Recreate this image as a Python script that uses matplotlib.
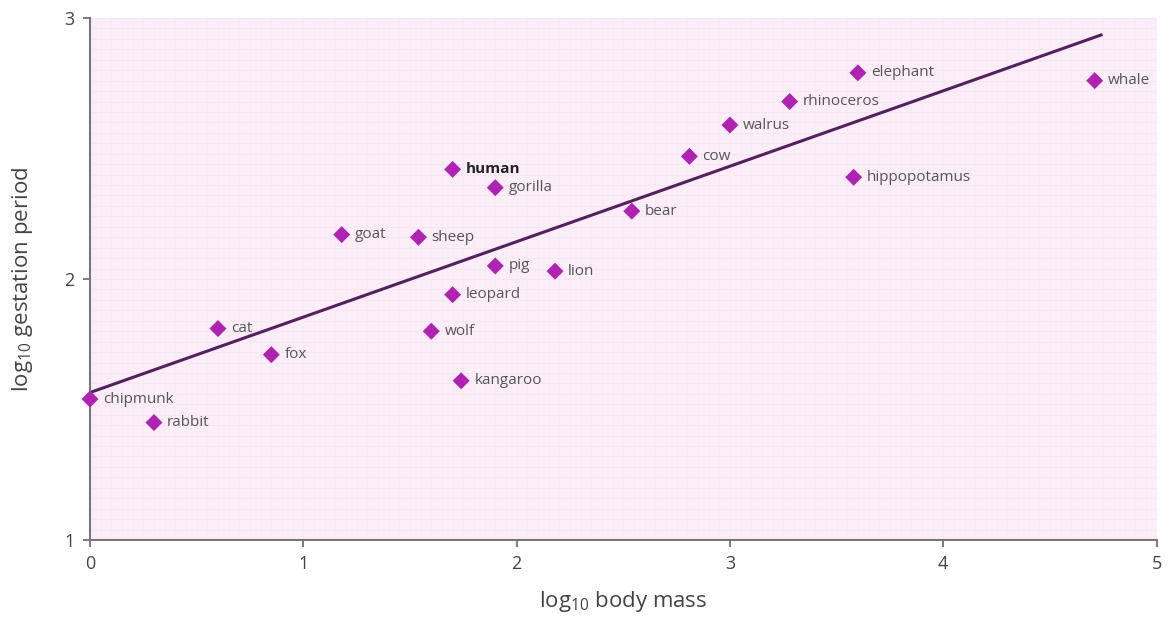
import matplotlib
matplotlib.use("Agg")
import matplotlib.pyplot as plt
import numpy as np

plt.rcParams['font.family'] = ['Open Sans', 'DejaVu Sans']
plt.rcParams['mathtext.fontset'] = 'custom'
plt.rcParams['mathtext.rm'] = 'Open Sans'
plt.rcParams['mathtext.it'] = 'Open Sans:italic'

animals = ["chipmunk", "rabbit", "cat", "fox", "goat", "sheep", "human", "gorilla",
           "pig", "lion", "leopard", "wolf", "kangaroo", "bear", "cow", "walrus",
           "rhinoceros", "elephant", "hippopotamus", "whale"]
log_mass = [0.00, 0.30, 0.60, 0.85, 1.18, 1.54, 1.70, 1.90,
            1.90, 2.18, 1.70, 1.60, 1.74, 2.54, 2.81, 3.00,
            3.28, 3.60, 3.58, 4.71]
log_gestation = [1.54, 1.45, 1.81, 1.71, 2.17, 2.16, 2.42, 2.35,
                 2.05, 2.03, 1.94, 1.80, 1.61, 2.26, 2.47, 2.59,
                 2.68, 2.79, 2.39, 2.76]
fit_x = [0.0, 4.74]
fit_y = [1.565, 2.935]

x_ticks = [0, 1, 2, 3, 4, 5]
y_ticks = [1, 2, 3]

fig = plt.figure(figsize=(11.75, 6.17), dpi=100)
ax = fig.add_axes([0.0766, 0.1248, 0.9077, 0.846])
ax.set_facecolor('#fbeef8')

# faint paper texture
for gy in np.arange(1, 3.0001, 0.04):
    ax.axhline(gy, color='#f6e5f2', lw=0.6, zorder=0)
for gx in np.arange(0, 5.0001, 0.05):
    ax.axvline(gx, color='#f8e9f5', lw=0.5, zorder=0)

ax.plot(fit_x, fit_y, color='#552060', lw=2.2, zorder=2)
ax.scatter(log_mass, log_gestation, marker='D', s=75, color='#b021b4',
           edgecolors='none', zorder=3, clip_on=False)

for name, x, y in zip(animals, log_mass, log_gestation):
    bold = name == "human"
    ax.annotate(name, (x, y), xytext=(9.5, 0), textcoords='offset points',
                ha='left', va='center', fontsize=11,
                color='#222222' if bold else '#555555',
                fontweight='bold' if bold else 'normal', zorder=4)

ax.set_xlim(0, 5)
ax.set_ylim(1, 3)
ax.set_xticks(x_ticks)
ax.set_yticks(y_ticks)
ax.tick_params(direction='out', length=5, width=1.2, color='#666666',
               labelsize=13, labelcolor='#444444', pad=6)
for side in ['top', 'right']:
    ax.spines[side].set_visible(False)
for side in ['left', 'bottom']:
    ax.spines[side].set_color('#777777')
    ax.spines[side].set_linewidth(1.5)

ax.set_xlabel('log$_{10}$ body mass', fontsize=16, color='#444444', labelpad=11)
ax.set_ylabel('log$_{10}$ gestation period', fontsize=16, color='#444444', labelpad=21)

fig.savefig('out.png', dpi=100, facecolor='white')
